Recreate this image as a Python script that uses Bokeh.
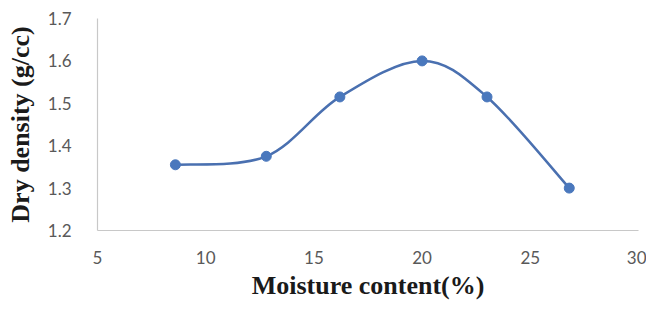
from bokeh.plotting import figure
from bokeh.models import FixedTicker, PrintfTickFormatter, Range1d, ColumnDataSource
from bokeh.embed import file_html
from bokeh.resources import INLINE

moisture = [8.6, 12.8, 16.2, 20.0, 23.0, 26.8]
density = [1.355, 1.375, 1.515, 1.600, 1.515, 1.300]
x_ticks = [5, 10, 15, 20, 25, 30]
y_ticks = [1.2, 1.3, 1.4, 1.5, 1.6, 1.7]

n = len(moisture)
seg = dict(x0=[], y0=[], x1=[], y1=[], cx0=[], cy0=[], cx1=[], cy1=[])
for i in range(n - 1):
    im1 = max(i - 1, 0)
    ip2 = min(i + 2, n - 1)
    seg["x0"].append(moisture[i]); seg["y0"].append(density[i])
    seg["x1"].append(moisture[i + 1]); seg["y1"].append(density[i + 1])
    seg["cx0"].append(moisture[i] + (moisture[i + 1] - moisture[im1]) / 6)
    seg["cy0"].append(density[i] + (density[i + 1] - density[im1]) / 6)
    seg["cx1"].append(moisture[i + 1] - (moisture[ip2] - moisture[i]) / 6)
    seg["cy1"].append(density[i + 1] - (density[ip2] - density[i]) / 6)

p = figure(width=646, height=302, output_backend="svg", toolbar_location=None,
           x_range=Range1d(5, 30), y_range=Range1d(1.2, 1.7),
           min_border_left=97, min_border_right=8, min_border_top=18, min_border_bottom=70)
p.outline_line_color = None
p.xgrid.grid_line_color = None
p.ygrid.grid_line_color = None

line_col = "#4a70b0"
p.bezier(x0="x0", y0="y0", x1="x1", y1="y1", cx0="cx0", cy0="cy0", cx1="cx1", cy1="cy1",
         source=ColumnDataSource(seg), line_color=line_col, line_width=2.5)
p.scatter(moisture, density, size=10, fill_color="#4a78bd", line_color="#4a78bd")

for ax in (p.xaxis[0], p.yaxis[0]):
    ax.axis_line_color = "#c8c8c8"
    ax.axis_line_width = 1.2
    ax.major_tick_line_color = None
    ax.minor_tick_line_color = None
    ax.major_label_text_color = "#595959"
    ax.major_label_text_font = "Lato"
    ax.major_label_text_font_size = "17px"
    ax.axis_label_text_font = "Liberation Serif"
    ax.axis_label_text_font_style = "bold"
    ax.axis_label_text_font_size = "26px"
    ax.axis_label_text_color = "#1a1a1a"

p.xaxis.ticker = FixedTicker(ticks=x_ticks)
p.yaxis.ticker = FixedTicker(ticks=y_ticks)
p.yaxis.formatter = PrintfTickFormatter(format="%.1f")
p.xaxis.axis_label = "Moisture content(%)"
p.yaxis.axis_label = "Dry density (g/cc)"
p.xaxis.major_label_standoff = 14
p.yaxis.major_label_standoff = 20
p.xaxis.axis_label_standoff = 4
p.yaxis.axis_label_standoff = 10

open("out.html", "w").write(file_html(p, INLINE))
